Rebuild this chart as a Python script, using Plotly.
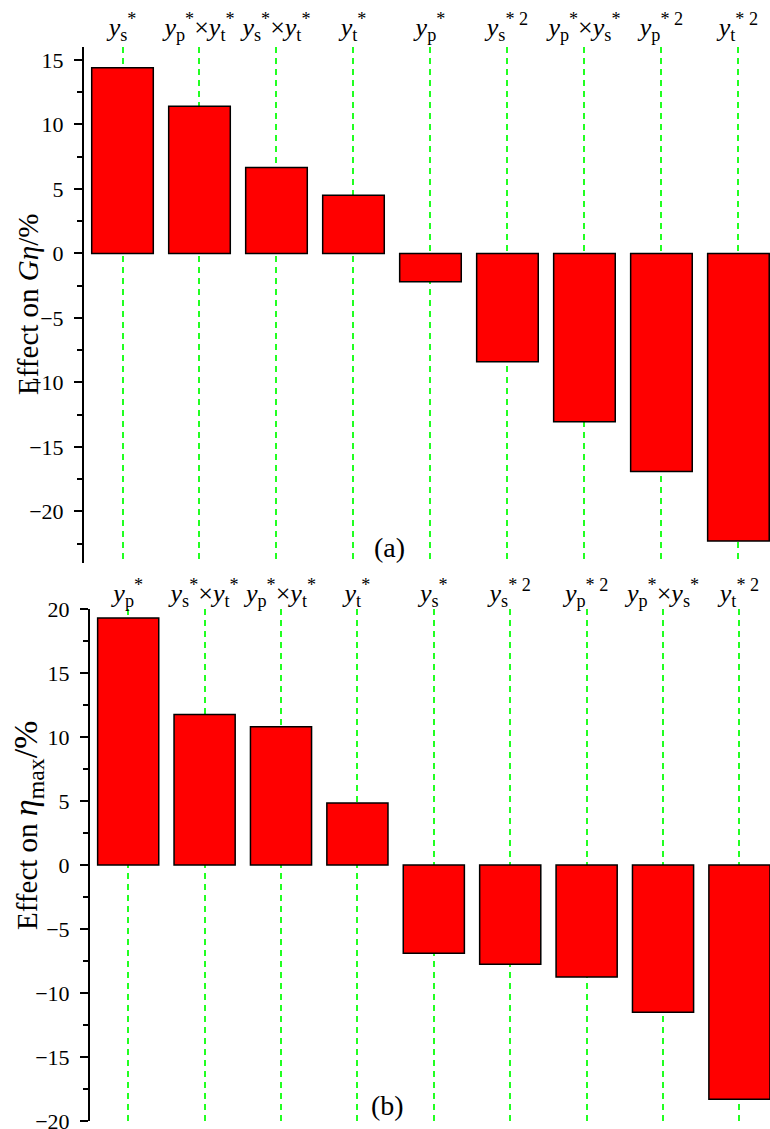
import plotly.graph_objects as go

# ---- data ----
labels_a = [
    "<i>y</i><sub>s</sub><sup>*</sup>",
    "<i>y</i><sub>p</sub><sup>*</sup>×<i>y</i><sub>t</sub><sup>*</sup>",
    "<i>y</i><sub>s</sub><sup>*</sup>×<i>y</i><sub>t</sub><sup>*</sup>",
    "<i>y</i><sub>t</sub><sup>*</sup>",
    "<i>y</i><sub>p</sub><sup>*</sup>",
    "<i>y</i><sub>s</sub><sup>* 2</sup>",
    "<i>y</i><sub>p</sub><sup>*</sup>×<i>y</i><sub>s</sub><sup>*</sup>",
    "<i>y</i><sub>p</sub><sup>* 2</sup>",
    "<i>y</i><sub>t</sub><sup>* 2</sup>",
]
values_a = [14.4, 11.4, 6.65, 4.5, -2.2, -8.4, -13.05, -16.9, -22.3]

labels_b = [
    "<i>y</i><sub>p</sub><sup>*</sup>",
    "<i>y</i><sub>s</sub><sup>*</sup>×<i>y</i><sub>t</sub><sup>*</sup>",
    "<i>y</i><sub>p</sub><sup>*</sup>×<i>y</i><sub>t</sub><sup>*</sup>",
    "<i>y</i><sub>t</sub><sup>*</sup>",
    "<i>y</i><sub>s</sub><sup>*</sup>",
    "<i>y</i><sub>s</sub><sup>* 2</sup>",
    "<i>y</i><sub>p</sub><sup>* 2</sup>",
    "<i>y</i><sub>p</sub><sup>*</sup>×<i>y</i><sub>s</sub><sup>*</sup>",
    "<i>y</i><sub>t</sub><sup>* 2</sup>",
]
values_b = [19.3, 11.75, 10.8, 4.85, -6.9, -7.75, -8.75, -11.5, -18.3]

ytitle_a = "Effect on <i>Gη</i>/%"
ytitle_b = ("Effect on <span style='font-size:34px'><i>η</i>"
            "<sub>max</sub>/%</span>")
range_a = [-24, 16]
range_b = [-20, 20]

# ---- layout geometry ----
W, H = 770, 1129
FONT = "Liberation Serif, Times New Roman, serif"
dom_ya = [1 - 563 / H, 1 - 47 / H]
dom_yb = [1 - 1121 / H, 1 - 609 / H]
dom_xa = [84 / W, 1]
dom_xb = [90 / W, 1]
xr_a = [-0.5, 8.41]
xr_b = [-0.5, 8.40]


def zero_pos(dom, rng):
    return dom[0] + (0 - rng[0]) / (rng[1] - rng[0]) * (dom[1] - dom[0])


fig = go.Figure()
bar_style = dict(marker=dict(color="#FF0000", line=dict(color="black", width=1.5)),
                 width=0.8, showlegend=False, hoverinfo="skip")
fig.add_trace(go.Bar(x=labels_a, y=values_a, xaxis="x", yaxis="y", **bar_style))
fig.add_trace(go.Bar(x=labels_b, y=values_b, xaxis="x2", yaxis="y2", **bar_style))

cat_axis = dict(type="category", side="top", showline=False, ticks="", tickangle=0,
                showgrid=True, gridcolor="#22FF22", gridwidth=2, griddash="6px,5px",
                zeroline=False, automargin=False,
                tickfont=dict(family=FONT, size=26, color="black"), fixedrange=True)
y_axis = dict(showline=True, linecolor="black", linewidth=2, ticks="outside",
              ticklen=8, tickwidth=1.5, tickcolor="black", dtick=5, showgrid=False,
              zeroline=False, ticklabeloverflow="allow", automargin=False,
              ticklabelstandoff=6,
              tickfont=dict(family=FONT, size=22, color="black"),
              minor=dict(dtick=2.5, ticks="outside", ticklen=5, tickwidth=1.5,
                         tickcolor="black", showgrid=False))
zero_axis = dict(type="linear", showline=True, linecolor="black", linewidth=1.5,
                 ticks="inside", ticklen=9, tickwidth=1.5, tickcolor="black",
                 tickvals=list(range(9)), showticklabels=False, showgrid=False,
                 zeroline=False, side="bottom", anchor="free", automargin=False,
                 minor=dict(tickvals=[i + 0.5 for i in range(-1, 9)], ticks="inside",
                            ticklen=5, tickwidth=1.5, tickcolor="black", showgrid=False))

title_font = dict(family=FONT, size=29, color="black")
fig.update_layout(
    width=W, height=H, margin=dict(l=0, r=0, t=0, b=0, autoexpand=False),
    paper_bgcolor="white", plot_bgcolor="white", bargap=0.2,
    font=dict(family=FONT, color="black"),
    xaxis=dict(domain=dom_xa, anchor="y", range=xr_a, ticklabelstandoff=5,
               tickmode="array", tickvals=labels_a, ticktext=labels_a, **cat_axis),
    yaxis=dict(domain=dom_ya, anchor="x", range=range_a, **y_axis),
    xaxis2=dict(domain=dom_xb, anchor="y2", range=xr_b, ticklabelstandoff=1,
                tickmode="array", tickvals=labels_b, ticktext=labels_b, **cat_axis),
    yaxis2=dict(domain=dom_yb, anchor="x2", range=range_b, **y_axis),
    xaxis3=dict(overlaying="x", domain=dom_xa, range=xr_a,
                position=zero_pos(dom_ya, range_a), **zero_axis),
    xaxis4=dict(overlaying="x2", domain=dom_xb, range=xr_b,
                position=zero_pos(dom_yb, range_b), **zero_axis),
    annotations=[
        dict(text=ytitle_a, xref="paper", yref="paper", x=28 / W, y=1 - 305 / H,
             xanchor="center", yanchor="middle",
             textangle=-90, showarrow=False, font=title_font),
        dict(text=ytitle_b, xref="paper", yref="paper", x=28 / W, y=1 - 826 / H,
             xanchor="center", yanchor="middle",
             textangle=-90, showarrow=False, font=title_font),
        dict(text="(a)", xref="paper", yref="paper", x=390 / W, y=1 - 548 / H,
             xanchor="center", yanchor="middle",
             showarrow=False, font=dict(family=FONT, size=28, color="black")),
        dict(text="(b)", xref="paper", yref="paper", x=388 / W, y=1 - 1105 / H,
             xanchor="center", yanchor="middle",
             showarrow=False, font=dict(family=FONT, size=28, color="black")),
    ],
)

fig.write_html("out.html")
